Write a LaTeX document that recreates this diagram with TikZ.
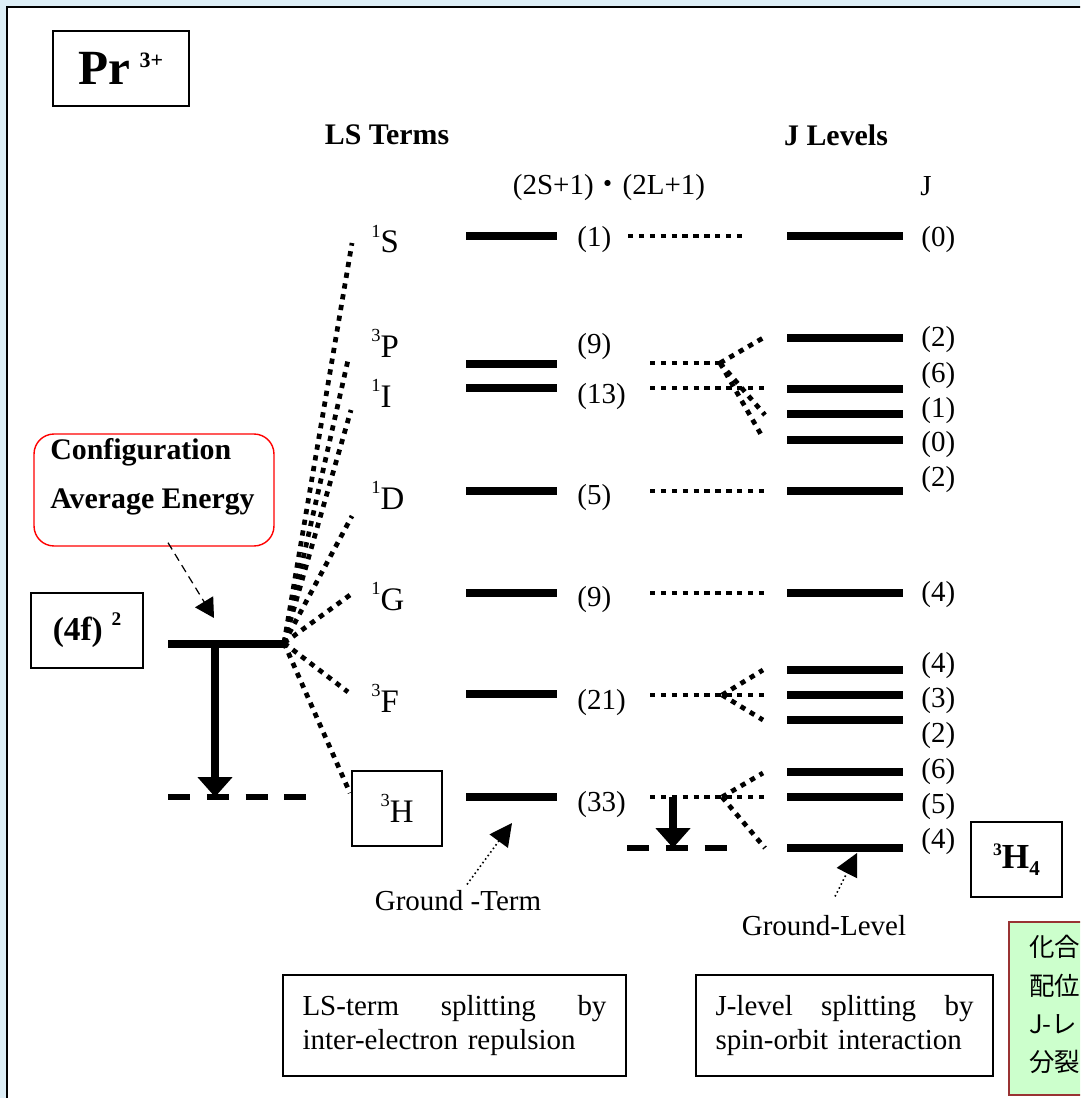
\documentclass[tikz,border=0pt]{standalone}
\usepackage{fontspec}
\setmainfont{Liberation Serif}
\newfontfamily\cjk{Noto Sans CJK JP}
\usetikzlibrary{arrows.meta}
\definecolor{frameblue}{HTML}{DDEEF6}
\definecolor{notegreen}{HTML}{CCFFCC}
\definecolor{notered}{HTML}{993333}
\newcommand{\trm}[2]{\raisebox{9pt}{\fontsize{10.5}{11}\selectfont #1}#2}

\begin{document}
\begin{tikzpicture}[x=0.02cm, y=-0.02cm, inner sep=0pt,
  font=\fontsize{16.5}{19.8}\selectfont,
  lvl/.style={line width=4.5pt},
  split/.style={line width=2.7pt, dash pattern=on 3pt off 3.2pt},
  gnd/.style={line width=3.2pt, dash pattern=on 12.5pt off 9.6pt},
  drop/.style={line width=4.5pt, -{Triangle[length=0.4cm, width=0.68cm]}},
  box/.style={draw, line width=1.1pt},
  termlab/.style={anchor=base west, font=\fontsize{18.7}{20}\selectfont},
  ptr/.style={line width=0.9pt, dash pattern=on 0.9pt off 1.6pt, -{Triangle[length=0.45cm, width=0.45cm]}},
  cptr/.style={line width=0.7pt, dash pattern=on 4.5pt off 3pt, -{Triangle[length=0.38cm, width=0.42cm]}}]
\useasboundingbox (0,0) rectangle (1080,1098);
\clip (0,0) rectangle (1080,1098);
\fill[frameblue] (0,0) rectangle (1080,1098);
\filldraw[fill=white, draw=black, line width=1.4pt] (7,7) rectangle (1100,1120);

% headings
\node[box, line width=1.6pt, minimum width=2.72cm, minimum height=1.5cm] (ion) at (121,68.5) {\fontsize{28}{30}\selectfont\bfseries Pr\hspace{5pt}\raisebox{10pt}{\fontsize{12.5}{13}\selectfont 3+}};
\node[font=\fontsize{17}{20}\selectfont\bfseries] (lshead) at (387,135) {LS Terms};
\node[font=\fontsize{17}{20}\selectfont\bfseries] (jhead) at (836,135) {J Levels};
\node (deghead) at (609,188) {(2S+1){\cjk ・}(2L+1)};
\node (jcol) at (926,186) {J};

% configuration (4f)^2 and its average energy
\node[box, line width=1.3pt, minimum width=2.24cm, minimum height=1.5cm, font=\fontsize{19}{21}\selectfont\bfseries] (cfg) at (87,630.5) {(4f)\hspace{5pt}\raisebox{8.5pt}{\fontsize{11}{12}\selectfont 2}};
\node[draw=red, line width=0.8pt, rounded corners=0.4cm, minimum width=4.8cm, minimum height=2.24cm] (avgbox) at (154,490) {};
\node[anchor=west, font=\fontsize{17}{20}\selectfont\bfseries] (avgt1) at (50,452) {Configuration};
\node[anchor=west, font=\fontsize{17}{20}\selectfont\bfseries] (avgt2) at (50,502) {Average Energy};
\draw[lvl] (168,644) coordinate (avg-l) -- (287,644) coordinate (avg-r);
\coordinate (avg-tip) at (214,618);
\draw[cptr] ([shift={(14,-4)}]avgbox.south) -- (avg-tip);
\coordinate (avg-drop) at (215,644);
\coordinate (avg-gnd) at (215,797);
\draw[drop] (avg-drop) -- (avg-gnd);
\draw[gnd] (168,797) -- (306,797);

% fan towards the LS terms
\coordinate (fan) at (284,643);
\foreach \fx/\fy [count=\k] in {352/243, 348/360, 351/410, 352/516, 350/595, 348/692, 350/793}{
  \coordinate (fan\k) at (\fx,\fy);
  \draw[split] (fan) -- (fan\k);
}

% LS terms: letter/multiplicity/baseline/bar/label y/degeneracy
\foreach \nm/\sp/\bl/\yb/\ly/\dg in {S/1/253/236/240/1, P/3/357/364/347/9, I/1/407/388/397/13, D/1/509/491/498/5, G/1/610/593/600/9, F/3/712/694/703/21}{
  \node[termlab] (t\nm) at (371,\bl) {\trm{\sp}{\nm}};
  \draw[lvl] (466,\yb) coordinate (\nm-l) -- (557,\yb) coordinate (\nm-r);
  \node[anchor=west] (d\nm) at (577,\ly) {(\dg)};
}
\node[box, minimum width=1.8cm, minimum height=1.5cm, font=\fontsize{18.7}{20}\selectfont] (tH) at (397,808.5) {\trm{3}{H}};
\draw[lvl] (466,797) coordinate (H-l) -- (557,797) coordinate (H-r);
\node[anchor=west] (dH) at (577,805) {(33)};

% ground term
\node (gterm) at (458,901) {Ground -Term};
\coordinate (gterm-tip) at (512,823);
\draw[ptr] ([shift={(9,-6)}]gterm.north) -- (gterm-tip);

% spin-orbit splitting
\draw[split] (628,236) -- (742,236);
\draw[split] (650,363) -- (720,363) coordinate (brP);
\foreach \y in {388, 491, 593, 695, 797}
  \draw[split] (650,\y) -- (765,\y);
\coordinate (brF) at (722,695);
\coordinate (brH) at (722,797);
\foreach \a/\bx/\by in {brP/763/338, brP/765/415, brP/763/438, brF/763/670, brF/763/720, brH/763/773, brH/765/848}
  \draw[split] (\a) -- (\bx,\by);
\coordinate (H-drop) at (673,797);
\coordinate (H-gnd) at (673,848);
\draw[drop] (H-drop) -- (H-gnd);
\draw[gnd] (627,848) -- (727,848);

% J levels: bar y/label y/J
\foreach \y/\ly/\j [count=\k] in {236/240/0, 338/340/2, 389/376/6, 414/411/1, 440/445/0, 491/480/2, 593/595/4, 670/666/4, 695/701/3, 720/736/2, 772/772/6, 797/807/5, 848/842/4}{
  \draw[lvl] (787,\y) coordinate (J\k-l) -- (903,\y) coordinate (J\k-r);
  \node[anchor=west] (jv\k) at (921,\ly) {(\j)};
}
\node[box, line width=1.4pt, minimum width=1.82cm, minimum height=1.5cm, font=\fontsize{20}{22}\selectfont\bfseries] (glbox) at (1016.5,859.5) {\raisebox{7.4pt}{\fontsize{10}{11}\selectfont 3}H\raisebox{-4pt}{\fontsize{12}{13}\selectfont 4}};

% ground level
\node (glev) at (824,926) {Ground-Level};
\coordinate (glev-tip) at (857,853);
\draw[ptr] ([shift={(11,-19)}]glev.north) -- (glev-tip);

% captions
\node[box, minimum width=6.86cm, minimum height=2.02cm, text width=6.08cm, align=left] (lsbox) at (454.5,1025.5) {\makebox[6.08cm]{LS-term\hfill splitting\hfill by}\\inter-electron repulsion};
\node[box, minimum width=5.94cm, minimum height=2.02cm, text width=5.16cm, align=left] (jbox) at (844.5,1025.5) {\makebox[5.16cm]{J-level\hfill splitting\hfill by}\\spin-orbit interaction};
\node[draw=notered, fill=notegreen, line width=1pt, minimum width=2cm, minimum height=3.46cm, anchor=north west] (note) at (1008,921) {};
\node[anchor=north west, align=left, font=\cjk\fontsize{14.5}{21.8}\selectfont] (notetxt) at (1029,935) {化合\\配位\\J-レ\\分裂};
\end{tikzpicture}
\end{document}
